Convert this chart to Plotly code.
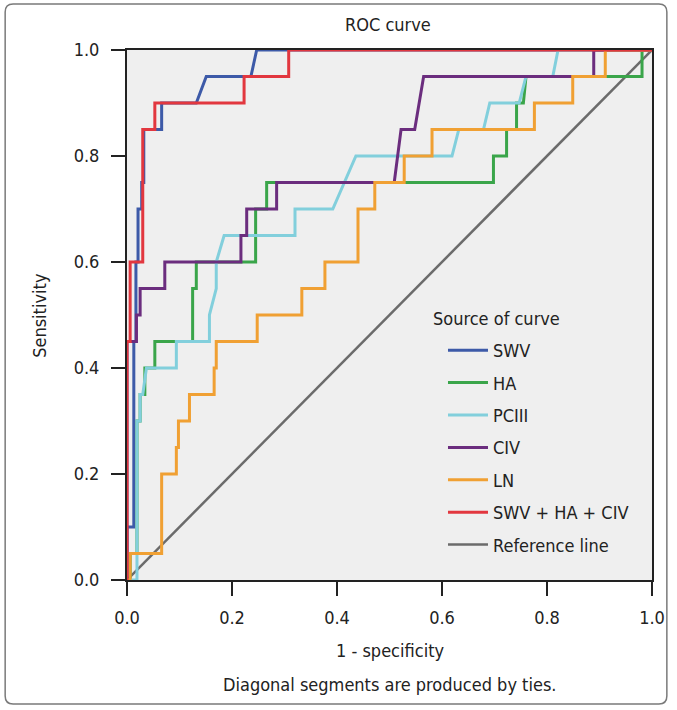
import plotly.graph_objects as go

# ---- data (1 - specificity, sensitivity) ----
swv_x = [0, 0, 0.013, 0.013, 0.017, 0.017, 0.021, 0.021, 0.028, 0.028, 0.032, 0.032, 0.066, 0.066, 0.132, 0.151, 0.236, 0.247, 1.0]
swv_y = [0, 0.10, 0.10, 0.45, 0.45, 0.60, 0.60, 0.70, 0.70, 0.75, 0.75, 0.85, 0.85, 0.90, 0.90, 0.95, 0.95, 1.0, 1.0]

ha_x = [0, 0.006, 0.006, 0.019, 0.019, 0.025, 0.025, 0.034, 0.034, 0.053, 0.053, 0.125, 0.125, 0.132, 0.132, 0.245, 0.245, 0.266, 0.266, 0.698, 0.698, 0.723, 0.723, 0.742, 0.742, 0.755, 0.760, 0.981, 0.981, 1.0]
ha_y = [0, 0, 0.05, 0.05, 0.30, 0.30, 0.35, 0.35, 0.40, 0.40, 0.45, 0.45, 0.55, 0.55, 0.60, 0.60, 0.70, 0.70, 0.75, 0.75, 0.80, 0.80, 0.85, 0.85, 0.90, 0.90, 0.95, 0.95, 1.0, 1.0]

pciii_x = [0, 0.019, 0.019, 0.025, 0.025, 0.030, 0.037, 0.094, 0.094, 0.157, 0.157, 0.170, 0.170, 0.185, 0.320, 0.320, 0.392, 0.436, 0.619, 0.632, 0.679, 0.691, 0.747, 0.760, 0.811, 0.821, 1.0]
pciii_y = [0, 0, 0.30, 0.30, 0.35, 0.35, 0.40, 0.40, 0.45, 0.45, 0.50, 0.55, 0.60, 0.65, 0.65, 0.70, 0.70, 0.80, 0.80, 0.85, 0.85, 0.90, 0.90, 0.95, 0.95, 1.0, 1.0]

civ_x = [0, 0, 0.018, 0.018, 0.025, 0.025, 0.072, 0.072, 0.217, 0.217, 0.228, 0.228, 0.285, 0.285, 0.509, 0.515, 0.522, 0.548, 0.565, 0.889, 0.889, 1.0]
civ_y = [0, 0.45, 0.45, 0.50, 0.50, 0.55, 0.55, 0.60, 0.60, 0.65, 0.65, 0.70, 0.70, 0.75, 0.75, 0.80, 0.85, 0.85, 0.95, 0.95, 1.0, 1.0]

ln_x = [0, 0.006, 0.006, 0.066, 0.066, 0.094, 0.094, 0.098, 0.098, 0.119, 0.119, 0.166, 0.166, 0.170, 0.170, 0.248, 0.248, 0.333, 0.333, 0.377, 0.377, 0.440, 0.440, 0.472, 0.472, 0.528, 0.528, 0.581, 0.581, 0.776, 0.776, 0.849, 0.849, 0.911, 0.911, 1.0]
ln_y = [0, 0, 0.05, 0.05, 0.20, 0.20, 0.25, 0.25, 0.30, 0.30, 0.35, 0.35, 0.40, 0.40, 0.45, 0.45, 0.50, 0.50, 0.55, 0.55, 0.60, 0.60, 0.70, 0.70, 0.75, 0.75, 0.80, 0.80, 0.85, 0.85, 0.90, 0.90, 0.95, 0.95, 1.0, 1.0]

combo_x = [0, 0, 0.006, 0.006, 0.030, 0.030, 0.053, 0.053, 0.223, 0.223, 0.308, 0.308, 1.0]
combo_y = [0, 0.45, 0.45, 0.60, 0.60, 0.85, 0.85, 0.90, 0.90, 0.95, 0.95, 1.0, 1.0]

ref_x = [0, 1]
ref_y = [0, 1]

names = ["SWV", "HA", "PCIII", "CIV", "LN", "SWV + HA + CIV", "Reference line"]
colors = ["#3d5aa8", "#3aa54a", "#82cfdc", "#6b2d7e", "#f0a033", "#e2373f", "#6b6b6b"]
series = [(swv_x, swv_y), (ha_x, ha_y), (pciii_x, pciii_y), (civ_x, civ_y),
          (ln_x, ln_y), (combo_x, combo_y), (ref_x, ref_y)]

tick_vals = [0.0, 0.2, 0.4, 0.6, 0.8, 1.0]
tick_text = ["0.0", "0.2", "0.4", "0.6", "0.8", "1.0"]

FONT = "DejaVu Sans Condensed, Open Sans, DejaVu Sans, sans-serif"
FS = 18

W, H = 677, 710
L, R, T, B = 127, 20, 50, 130
PW, PH = W - L - R, H - T - B


def px_x(p):
    return (p - L) / PW


def px_y(p):
    return (H - B - p) / PH


def rounded_rect(x0, y0, x1, y1, r):
    # pixel coords (y downward) -> paper-coordinate SVG path with rounded corners
    X = px_x
    Y = px_y
    return (f"M {X(x0 + r)} {Y(y0)} L {X(x1 - r)} {Y(y0)} Q {X(x1)} {Y(y0)} {X(x1)} {Y(y0 + r)} "
            f"L {X(x1)} {Y(y1 - r)} Q {X(x1)} {Y(y1)} {X(x1 - r)} {Y(y1)} "
            f"L {X(x0 + r)} {Y(y1)} Q {X(x0)} {Y(y1)} {X(x0)} {Y(y1 - r)} "
            f"L {X(x0)} {Y(y0 + r)} Q {X(x0)} {Y(y0)} {X(x0 + r)} {Y(y0)} Z")


fig = go.Figure()
order = [6, 0, 1, 2, 3, 4, 5]
for i in order:
    xs, ys = series[i]
    fig.add_trace(go.Scatter(
        x=xs, y=ys, mode="lines", name=names[i],
        line=dict(color=colors[i], width=3 if i < 6 else 2.5),
        legendgroup=names[i], legendrank=i + 1,
    ))

fig.update_layout(
    width=W, height=H,
    margin=dict(l=L, r=R, t=T, b=B),
    paper_bgcolor="white",
    plot_bgcolor="#efefef",
    font=dict(family=FONT, size=FS, color="#222"),
    showlegend=True,
    legend=dict(
        x=px_x(446), y=px_y(332), xanchor="left", yanchor="top",
        bgcolor="rgba(0,0,0,0)",
        font=dict(size=FS),
        tracegroupgap=6,
        itemwidth=40,
    ),
    xaxis=dict(
        range=[0, 1], tickvals=tick_vals, ticktext=tick_text,
        showgrid=False, zeroline=False,
        showline=True, linecolor="#222", linewidth=2, mirror=True,
        ticks="outside", ticklen=14, tickwidth=2, tickcolor="#222",
        tickfont=dict(size=FS), ticklabelstandoff=6,
    ),
    yaxis=dict(
        range=[0, 1], tickvals=tick_vals, ticktext=tick_text,
        showgrid=False, zeroline=False,
        showline=True, linecolor="#222", linewidth=2, mirror=True,
        ticks="outside", ticklen=14, tickwidth=2, tickcolor="#222",
        tickfont=dict(size=FS), ticklabelstandoff=8,
    ),
    annotations=[
        dict(text="ROC curve", xref="paper", yref="paper", x=px_x(390), y=px_y(25),
             xanchor="center", yanchor="middle", showarrow=False, font=dict(size=FS)),
        dict(text="Sensitivity", xref="paper", yref="paper", x=px_x(38), y=0.5,
             xanchor="center", yanchor="middle", textangle=-90, showarrow=False,
             font=dict(size=FS)),
        dict(text="1 - specificity", xref="paper", yref="paper", x=0.5, y=px_y(650),
             xanchor="center", yanchor="middle", showarrow=False, font=dict(size=FS)),
        dict(text="Diagonal segments are produced by ties.", xref="paper", yref="paper",
             x=0.5, y=px_y(684), xanchor="center", yanchor="middle", showarrow=False,
             font=dict(size=FS)),
        dict(text="Source of curve", xref="paper", yref="paper", x=px_x(434), y=px_y(318),
             xanchor="left", yanchor="middle", showarrow=False, font=dict(size=FS)),
    ],
    shapes=[
        dict(type="path", xref="paper", yref="paper",
             path=rounded_rect(4, 4, 672, 704, 8),
             line=dict(color="#7a7a7a", width=1.5), layer="below"),
    ],
)

fig.write_html("out.html", config={"displayModeBar": False},
               post_script="document.body.style.margin='0';document.body.style.overflow='hidden';")
